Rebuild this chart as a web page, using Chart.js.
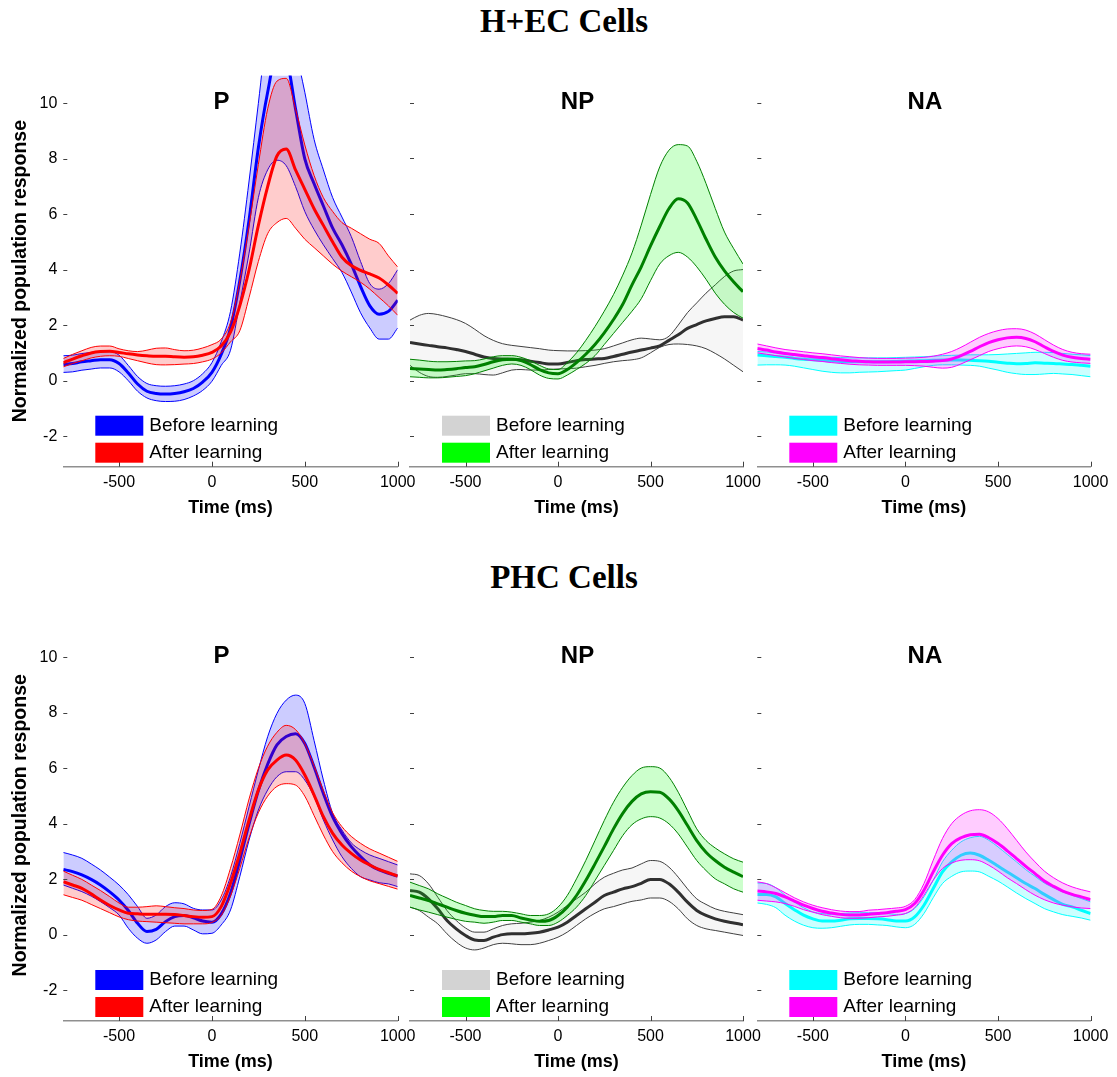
<!DOCTYPE html>
<html>
<head>
<meta charset="utf-8">
<title>Normalized population response before and after learning</title>
<script src="https://cdn.jsdelivr.net/npm/chart.js@4.4.0/dist/chart.umd.min.js"></script>
<style>
  body { margin: 0; background: #fff; width: 1117px; height: 1077px; position: relative; overflow: hidden; }
  .row-title { position: absolute; left: 0; width: 1128px; text-align: center; line-height: 38px;
               font: bold 33px "Liberation Serif", "Times New Roman", serif; color: #000; }
  canvas { position: absolute; }
</style>
</head>
<body>
<script>
const timeMs = [-800, -750, -700, -650, -600, -550, -500, -450, -400, -350, -300, -250, -200, -150, -100, -50,
    0, 50, 100, 150, 200, 250, 300, 350, 400, 450, 500, 550, 600, 650, 700, 750, 800, 850, 900, 950, 1000];
const xTickValues = [-500, 0, 500, 1000];
const yTickValues = [-2, 0, 2, 4, 6, 8, 10];
const rowTitles = ['H+EC Cells', 'PHC Cells'];
const panelTitles = ['P', 'NP', 'NA'];
const legendLabels = ['Before learning', 'After learning'];

// H+EC, P
const hecPBeforeMean = [0.58, 0.62, 0.68, 0.72, 0.76, 0.76, 0.62, 0.28, -0.12, -0.38, -0.46, -0.48, -0.46, -0.40, -0.28, -0.05, 0.30, 0.95, 1.9, 3.6, 5.8, 8.4, 10.4, 11.8, 11.6, 9.8, 8.0, 7.1, 6.3, 5.5, 4.9, 4.2, 3.4, 2.7, 2.4, 2.5, 2.9];
const hecPBeforeUpper = [0.9, 0.92, 0.98, 1.02, 1.05, 1.05, 0.92, 0.55, 0.15, -0.1, -0.18, -0.2, -0.18, -0.12, 0.0, 0.25, 0.65, 1.4, 2.5, 4.6, 7.2, 10.0, 12.8, 14.0, 14.0, 12.0, 10.4, 8.7, 7.6, 6.6, 5.9, 5.2, 4.3, 3.5, 3.3, 3.5, 4.0];
const hecPBeforeLower = [0.3, 0.32, 0.38, 0.42, 0.46, 0.46, 0.32, 0.0, -0.38, -0.62, -0.72, -0.75, -0.74, -0.68, -0.55, -0.35, -0.02, 0.55, 1.1, 2.8, 4.6, 6.6, 7.6, 7.95, 7.75, 7.0, 6.1, 5.45, 4.9, 4.4, 3.9, 3.2, 2.45, 1.9, 1.5, 1.5, 1.9];
const hecPAfterMean = [0.65, 0.78, 0.9, 1.0, 1.05, 1.06, 1.02, 0.97, 0.93, 0.9, 0.88, 0.88, 0.86, 0.85, 0.86, 0.92, 1.02, 1.25, 1.75, 2.7, 4.0, 5.6, 7.0, 8.1, 8.35, 7.6, 6.9, 6.2, 5.6, 5.0, 4.45, 4.15, 3.98, 3.85, 3.7, 3.45, 3.15];
const hecPAfterUpper = [0.8, 0.95, 1.08, 1.2, 1.25, 1.25, 1.15, 1.08, 1.05, 1.1, 1.17, 1.18, 1.12, 1.08, 1.1, 1.18, 1.3, 1.5, 2.1, 3.6, 5.6, 7.8, 9.8, 10.8, 10.9, 9.8, 8.5, 7.4, 6.6, 6.1, 5.7, 5.5, 5.3, 5.1, 4.95, 4.5, 4.1];
const hecPAfterLower = [0.5, 0.62, 0.72, 0.82, 0.88, 0.9, 0.88, 0.8, 0.72, 0.64, 0.58, 0.57, 0.58, 0.6, 0.62, 0.68, 0.78, 1.0, 1.4, 1.8, 3.0, 4.3, 5.3, 5.7, 5.85, 5.5, 5.1, 4.8, 4.5, 4.2, 3.95, 3.75, 3.55, 3.3, 3.0, 2.7, 2.36];

// H+EC, NP
const hecNPBeforeMean = [1.37, 1.32, 1.27, 1.22, 1.18, 1.12, 1.05, 0.95, 0.85, 0.8, 0.78, 0.77, 0.75, 0.7, 0.65, 0.6, 0.6, 0.65, 0.72, 0.76, 0.78, 0.8, 0.87, 0.95, 1.03, 1.1, 1.17, 1.25, 1.45, 1.65, 1.88, 2.02, 2.15, 2.24, 2.3, 2.3, 2.18];
const hecNPBeforeUpper = [2.18, 2.35, 2.42, 2.38, 2.3, 2.2, 2.06, 1.85, 1.62, 1.45, 1.33, 1.27, 1.23, 1.19, 1.15, 1.1, 1.08, 1.07, 1.07, 1.08, 1.1, 1.15, 1.25, 1.36, 1.47, 1.53, 1.5, 1.47, 1.6, 2.0, 2.45, 2.8, 3.15, 3.45, 3.75, 3.95, 4.0];
const hecNPBeforeLower = [0.55, 0.3, 0.15, 0.12, 0.15, 0.2, 0.25, 0.25, 0.22, 0.2, 0.28, 0.38, 0.4, 0.38, 0.38, 0.4, 0.42, 0.43, 0.45, 0.5, 0.55, 0.62, 0.68, 0.72, 0.75, 0.82, 1.0, 1.2, 1.3, 1.32, 1.3, 1.25, 1.15, 0.98, 0.78, 0.55, 0.32];
const hecNPAfterMean = [0.44, 0.42, 0.4, 0.38, 0.4, 0.43, 0.47, 0.5, 0.58, 0.68, 0.75, 0.77, 0.72, 0.58, 0.4, 0.28, 0.25, 0.4, 0.65, 0.95, 1.3, 1.72, 2.2, 2.75, 3.45, 4.1, 4.85, 5.55, 6.2, 6.55, 6.4, 5.8, 5.1, 4.45, 3.95, 3.55, 3.2];
const hecNPAfterUpper = [0.77, 0.74, 0.7, 0.68, 0.68, 0.69, 0.71, 0.72, 0.78, 0.86, 0.9, 0.9, 0.84, 0.72, 0.55, 0.42, 0.4, 0.65, 1.0, 1.45, 1.95, 2.5, 3.1, 3.8, 4.6, 5.6, 6.7, 7.7, 8.3, 8.5, 8.45, 7.9, 7.1, 6.2, 5.35, 4.75, 4.2];
const hecNPAfterLower = [0.14, 0.12, 0.1, 0.1, 0.12, 0.15, 0.18, 0.25, 0.35, 0.45, 0.55, 0.6, 0.55, 0.4, 0.2, 0.08, 0.06, 0.2, 0.4, 0.62, 0.9, 1.3, 1.7, 2.1, 2.5, 2.95, 3.6, 4.2, 4.5, 4.62, 4.45, 4.1, 3.65, 3.15, 2.75, 2.45, 2.25];

// H+EC, NA
const hecNABeforeMean = [0.92, 0.9, 0.87, 0.84, 0.8, 0.77, 0.75, 0.73, 0.71, 0.69, 0.68, 0.68, 0.68, 0.68, 0.68, 0.69, 0.7, 0.71, 0.72, 0.73, 0.74, 0.74, 0.74, 0.73, 0.72, 0.7, 0.66, 0.63, 0.61, 0.62, 0.64, 0.63, 0.62, 0.6, 0.58, 0.55, 0.52];
const hecNABeforeUpper = [1.05, 1.03, 1.0, 0.97, 0.93, 0.9, 0.88, 0.86, 0.84, 0.83, 0.82, 0.82, 0.82, 0.82, 0.82, 0.83, 0.84, 0.85, 0.86, 0.88, 0.9, 0.91, 0.92, 0.93, 0.93, 0.93, 0.94, 0.96, 0.98, 1.0, 1.02, 1.02, 1.01, 0.98, 0.95, 0.93, 0.9];
const hecNABeforeLower = [0.56, 0.57, 0.57, 0.56, 0.52, 0.46, 0.4, 0.34, 0.3, 0.28, 0.28, 0.3, 0.31, 0.32, 0.34, 0.36, 0.38, 0.44, 0.5, 0.55, 0.57, 0.57, 0.56, 0.55, 0.52, 0.45, 0.38, 0.3, 0.25, 0.22, 0.22, 0.24, 0.26, 0.24, 0.22, 0.18, 0.14];
const hecNAAfterMean = [1.16, 1.1, 1.03, 0.98, 0.94, 0.9, 0.86, 0.83, 0.79, 0.75, 0.72, 0.7, 0.68, 0.67, 0.67, 0.67, 0.68, 0.68, 0.69, 0.7, 0.72, 0.78, 0.9, 1.05, 1.22, 1.37, 1.47, 1.54, 1.56, 1.52, 1.4, 1.22, 1.05, 0.92, 0.84, 0.8, 0.77];
const hecNAAfterUpper = [1.32, 1.25, 1.18, 1.12, 1.08, 1.04, 1.0, 0.97, 0.93, 0.89, 0.86, 0.83, 0.81, 0.8, 0.8, 0.8, 0.81, 0.82, 0.84, 0.88, 0.95, 1.05, 1.2, 1.38, 1.56, 1.7, 1.8, 1.86, 1.87, 1.82, 1.68, 1.48, 1.28, 1.12, 1.02, 0.97, 0.95];
const hecNAAfterLower = [1.0, 0.95, 0.9, 0.85, 0.8, 0.76, 0.72, 0.69, 0.65, 0.62, 0.59, 0.57, 0.56, 0.55, 0.55, 0.55, 0.55, 0.54, 0.52, 0.48, 0.45, 0.48, 0.6, 0.75, 0.9, 1.05, 1.15, 1.22, 1.25, 1.22, 1.12, 0.98, 0.84, 0.73, 0.67, 0.64, 0.62];

// PHC, P
const phcPBeforeMean = [2.36, 2.28, 2.16, 2.0, 1.8, 1.55, 1.26, 0.88, 0.42, 0.12, 0.2, 0.48, 0.66, 0.7, 0.62, 0.5, 0.46, 0.75, 1.5, 2.7, 4.0, 5.2, 6.15, 6.85, 7.15, 7.25, 6.9, 6.05, 5.1, 4.25, 3.65, 3.18, 2.82, 2.52, 2.34, 2.22, 2.12];
const phcPBeforeUpper = [2.97, 2.88, 2.76, 2.56, 2.34, 2.08, 1.8, 1.45, 1.02, 0.6, 0.72, 1.02, 1.16, 1.12, 0.96, 0.9, 0.9, 1.26, 2.1, 3.3, 4.62, 5.94, 7.14, 7.98, 8.46, 8.64, 8.34, 7.0, 5.58, 4.38, 3.78, 3.32, 3.06, 2.88, 2.76, 2.64, 2.52];
const phcPBeforeLower = [1.8, 1.68, 1.56, 1.4, 1.2, 0.98, 0.72, 0.24, -0.12, -0.3, -0.18, 0.12, 0.32, 0.32, 0.18, 0.04, 0.06, 0.36, 0.9, 2.1, 3.42, 4.5, 5.22, 5.7, 5.88, 5.88, 5.58, 4.98, 4.14, 3.42, 2.82, 2.4, 2.1, 1.98, 1.88, 1.84, 1.74];
const phcPAfterMean = [1.92, 1.8, 1.68, 1.48, 1.26, 1.06, 0.9, 0.78, 0.76, 0.75, 0.75, 0.75, 0.74, 0.7, 0.66, 0.64, 0.66, 1.02, 1.86, 2.94, 4.14, 5.22, 5.94, 6.3, 6.48, 6.3, 5.76, 5.04, 4.26, 3.66, 3.24, 2.94, 2.7, 2.52, 2.36, 2.24, 2.12];
const phcPAfterUpper = [2.3, 2.15, 2.0, 1.8, 1.6, 1.38, 1.15, 1.0, 1.0, 1.02, 1.05, 1.02, 0.98, 0.95, 0.9, 0.88, 0.92, 1.4, 2.4, 3.6, 4.9, 6.0, 6.8, 7.3, 7.55, 7.4, 6.9, 6.1, 5.2, 4.4, 3.9, 3.55, 3.3, 3.1, 2.95, 2.8, 2.65];
const phcPAfterLower = [1.45, 1.35, 1.25, 1.1, 0.95, 0.8, 0.65, 0.55, 0.5, 0.48, 0.46, 0.44, 0.42, 0.4, 0.4, 0.4, 0.45, 0.7, 1.4, 2.4, 3.5, 4.4, 5.0, 5.35, 5.45, 5.4, 5.0, 4.3, 3.6, 3.0, 2.6, 2.3, 2.1, 1.95, 1.85, 1.75, 1.65];

// PHC, NP
const phcNPBeforeMean = [1.6, 1.54, 1.3, 0.94, 0.52, 0.22, -0.02, -0.18, -0.2, -0.08, 0.01, 0.04, 0.04, 0.06, 0.1, 0.18, 0.28, 0.46, 0.7, 0.94, 1.18, 1.42, 1.54, 1.66, 1.74, 1.86, 2.0, 2.0, 1.84, 1.54, 1.18, 0.88, 0.7, 0.58, 0.49, 0.43, 0.37];
const phcNPBeforeUpper = [2.2, 2.14, 1.84, 1.36, 0.88, 0.52, 0.25, 0.1, 0.1, 0.22, 0.34, 0.4, 0.42, 0.46, 0.52, 0.64, 0.82, 1.06, 1.3, 1.54, 1.84, 2.08, 2.22, 2.34, 2.41, 2.56, 2.68, 2.65, 2.44, 2.08, 1.66, 1.3, 1.1, 0.94, 0.85, 0.79, 0.73];
const phcNPBeforeLower = [1.0, 0.88, 0.64, 0.4, 0.04, -0.26, -0.47, -0.54, -0.47, -0.35, -0.3, -0.32, -0.35, -0.35, -0.3, -0.2, -0.08, 0.1, 0.34, 0.58, 0.78, 0.94, 1.02, 1.12, 1.21, 1.26, 1.33, 1.33, 1.21, 0.94, 0.58, 0.34, 0.22, 0.16, 0.1, 0.04, -0.02];
const phcNPAfterMean = [1.42, 1.33, 1.24, 1.12, 1.0, 0.88, 0.78, 0.71, 0.66, 0.66, 0.7, 0.7, 0.61, 0.54, 0.49, 0.52, 0.7, 1.0, 1.42, 1.96, 2.56, 3.18, 3.82, 4.38, 4.81, 5.08, 5.16, 5.14, 4.9, 4.48, 3.94, 3.4, 2.98, 2.68, 2.44, 2.26, 2.1];
const phcNPAfterUpper = [1.9, 1.78, 1.66, 1.48, 1.33, 1.18, 1.06, 0.94, 0.88, 0.85, 0.85, 0.82, 0.76, 0.7, 0.7, 0.76, 1.0, 1.42, 2.02, 2.68, 3.4, 4.12, 4.78, 5.32, 5.74, 6.01, 6.06, 6.01, 5.68, 5.14, 4.48, 3.82, 3.4, 3.13, 2.92, 2.74, 2.62];
const phcNPAfterLower = [1.0, 0.9, 0.82, 0.73, 0.64, 0.56, 0.49, 0.46, 0.42, 0.46, 0.52, 0.52, 0.46, 0.4, 0.34, 0.34, 0.46, 0.7, 1.0, 1.42, 1.96, 2.5, 3.04, 3.58, 3.97, 4.18, 4.26, 4.21, 4.0, 3.64, 3.16, 2.68, 2.32, 2.02, 1.84, 1.66, 1.54];

// PHC, NA
const phcNABeforeMean = [1.46, 1.46, 1.37, 1.13, 0.91, 0.71, 0.58, 0.5, 0.5, 0.53, 0.58, 0.59, 0.59, 0.58, 0.55, 0.5, 0.5, 0.65, 1.07, 1.67, 2.27, 2.63, 2.87, 2.95, 2.87, 2.69, 2.48, 2.27, 2.06, 1.85, 1.67, 1.46, 1.27, 1.1, 1.01, 0.89, 0.77];
const phcNABeforeUpper = [1.87, 1.85, 1.7, 1.43, 1.19, 0.98, 0.83, 0.77, 0.74, 0.77, 0.79, 0.8, 0.8, 0.79, 0.77, 0.74, 0.77, 0.95, 1.37, 1.97, 2.63, 3.05, 3.35, 3.5, 3.55, 3.41, 3.17, 2.9, 2.63, 2.35, 2.11, 1.87, 1.7, 1.55, 1.43, 1.31, 1.19];
const phcNABeforeLower = [1.15, 1.1, 0.98, 0.71, 0.5, 0.35, 0.26, 0.24, 0.26, 0.31, 0.36, 0.38, 0.38, 0.36, 0.34, 0.29, 0.26, 0.38, 0.77, 1.34, 1.85, 2.11, 2.27, 2.3, 2.27, 2.11, 1.94, 1.73, 1.51, 1.31, 1.13, 0.95, 0.83, 0.73, 0.67, 0.61, 0.53];
const phcNAAfterMean = [1.58, 1.55, 1.49, 1.37, 1.22, 1.07, 0.95, 0.85, 0.79, 0.74, 0.72, 0.72, 0.74, 0.77, 0.8, 0.85, 0.91, 1.13, 1.61, 2.27, 2.87, 3.29, 3.5, 3.61, 3.63, 3.5, 3.29, 3.03, 2.75, 2.47, 2.21, 1.94, 1.75, 1.58, 1.46, 1.37, 1.27];
const phcNAAfterUpper = [1.91, 1.85, 1.7, 1.52, 1.34, 1.19, 1.07, 0.98, 0.91, 0.86, 0.84, 0.84, 0.89, 0.91, 0.94, 0.97, 1.03, 1.27, 1.85, 2.69, 3.47, 4.01, 4.31, 4.47, 4.51, 4.43, 4.19, 3.83, 3.41, 2.99, 2.63, 2.3, 2.06, 1.87, 1.73, 1.63, 1.55];
const phcNAAfterLower = [1.25, 1.22, 1.19, 1.13, 1.03, 0.91, 0.82, 0.73, 0.67, 0.62, 0.6, 0.6, 0.62, 0.65, 0.67, 0.71, 0.77, 0.98, 1.43, 1.97, 2.39, 2.59, 2.69, 2.71, 2.67, 2.51, 2.3, 2.06, 1.85, 1.63, 1.43, 1.27, 1.15, 1.07, 1.01, 0.97, 0.95];

const sansFont = '"Liberation Sans", Arial, Helvetica, sans-serif';
Chart.defaults.font.family = sansFont;
Chart.defaults.color = '#000';

const palette = {
    P: {
        before: { line: '#0000ff', edge: '#0000ff', fill: 'rgba(0,0,255,0.2)', key: '#0000ff' },
        after: { line: '#ff0000', edge: '#ff0000', fill: 'rgba(255,0,0,0.2)', key: '#ff0000' }
    },
    NP: {
        before: { line: '#303030', edge: '#404040', fill: 'rgba(211,211,211,0.2)', key: '#d3d3d3' },
        after: { line: '#008000', edge: '#008000', fill: 'rgba(0,255,0,0.2)', key: '#00ff00' }
    },
    NA: {
        before: { line: '#00ffff', edge: '#00ffff', fill: 'rgba(0,255,255,0.2)', key: '#00ffff' },
        after: { line: '#ff00ff', edge: '#ff00ff', fill: 'rgba(255,0,255,0.2)', key: '#ff00ff' }
    }
};

const panelData = [
    [
        { before: [hecPBeforeMean, hecPBeforeUpper, hecPBeforeLower], after: [hecPAfterMean, hecPAfterUpper, hecPAfterLower] },
        { before: [hecNPBeforeMean, hecNPBeforeUpper, hecNPBeforeLower], after: [hecNPAfterMean, hecNPAfterUpper, hecNPAfterLower] },
        { before: [hecNABeforeMean, hecNABeforeUpper, hecNABeforeLower], after: [hecNAAfterMean, hecNAAfterUpper, hecNAAfterLower] }
    ],
    [
        { before: [phcPBeforeMean, phcPBeforeUpper, phcPBeforeLower], after: [phcPAfterMean, phcPAfterUpper, phcPAfterLower] },
        { before: [phcNPBeforeMean, phcNPBeforeUpper, phcNPBeforeLower], after: [phcNPAfterMean, phcNPAfterUpper, phcNPAfterLower] },
        { before: [phcNABeforeMean, phcNABeforeUpper, phcNABeforeLower], after: [phcNAAfterMean, phcNAAfterUpper, phcNAAfterLower] }
    ]
];

// canvas boxes, tuned so the plot areas line up with the figure
const colBoxes = [
    { left: 0, width: 423, padLeft: 0, padRight: 25.3, titleShift: -9 },
    { left: 385, width: 383, padLeft: 25, padRight: 25, titleShift: 1 },
    { left: 732, width: 384, padLeft: 25.3, padRight: 25.4, titleShift: 1 }
];
const rowBoxes = [
    { top: 60, height: 460, padTop: 15.2, padBottom: 0.3, titleTop: 3 },
    { top: 614, height: 460, padTop: 15.5, padBottom: 0, titleTop: 559 }
];

const toPoints = ys => timeMs.map((t, i) => ({ x: t, y: ys[i] }));

function bandDatasets(series, style, baseOrder) {
    const [mean, upper, lower] = series;
    const common = { pointRadius: 0, cubicInterpolationMode: 'monotone', clip: 0 };
    return [
        { ...common, data: toPoints(upper), borderColor: style.edge, borderWidth: 1,
          backgroundColor: style.fill, fill: '+1', order: baseOrder + 2 },
        { ...common, data: toPoints(lower), borderColor: style.edge, borderWidth: 1,
          fill: false, order: baseOrder + 1 },
        { ...common, data: toPoints(mean), borderColor: style.line, borderWidth: 3,
          fill: false, order: baseOrder }
    ];
}

function decorPlugin(title, keys, titleShift) {
    return {
        id: 'panelDecor',
        afterDraw(chart) {
            const { ctx, chartArea: a, scales: { x, y } } = chart;
            ctx.save();
            ctx.strokeStyle = '#404040';
            ctx.lineWidth = 1;
            ctx.beginPath();
            yTickValues.forEach(v => {
                const py = Math.round(y.getPixelForValue(v)) + 0.5;
                ctx.moveTo(a.left, py);
                ctx.lineTo(a.left + 4, py);
            });
            xTickValues.forEach(v => {
                const px = Math.round(x.getPixelForValue(v)) + 0.5;
                ctx.moveTo(px, a.bottom);
                ctx.lineTo(px, a.bottom - 5);
            });
            ctx.stroke();

            ctx.fillStyle = '#000';
            ctx.font = 'bold 24px ' + sansFont;
            ctx.textAlign = 'center';
            ctx.textBaseline = 'middle';
            ctx.fillText(title, (a.left + a.right) / 2 + titleShift, a.top + 27);

            ctx.font = '19px ' + sansFont;
            ctx.textAlign = 'left';
            keys.forEach((color, i) => {
                const top = a.bottom - 51 + i * 27;
                ctx.fillStyle = color;
                ctx.fillRect(a.left + 32, top, 48, 20);
                ctx.fillStyle = '#000';
                ctx.fillText(legendLabels[i], a.left + 86, top + 10);
            });
            ctx.restore();
        }
    };
}

rowTitles.forEach((text, r) => {
    const div = document.createElement('div');
    div.className = 'row-title';
    div.style.top = rowBoxes[r].titleTop + 'px';
    div.textContent = text;
    document.body.appendChild(div);
});

rowBoxes.forEach((rowBox, r) => {
    colBoxes.forEach((colBox, c) => {
        const title = panelTitles[c];
        const style = palette[title];
        const data = panelData[r][c];

        const canvas = document.createElement('canvas');
        canvas.width = colBox.width;
        canvas.height = rowBox.height;
        canvas.style.left = colBox.left + 'px';
        canvas.style.top = rowBox.top + 'px';
        canvas.style.width = colBox.width + 'px';
        canvas.style.height = rowBox.height + 'px';
        document.body.appendChild(canvas);

        const yScale = {
            min: -3.1,
            max: 11,
            display: c === 0,
            afterBuildTicks: s => { s.ticks = yTickValues.map(v => ({ value: v })); },
            grid: { display: false, drawTicks: false },
            border: { display: false },
            ticks: { font: { size: 16 }, color: '#000', padding: 6, callback: v => String(v) },
            title: {
                display: true,
                text: 'Normalized population response',
                font: { size: 19.5, weight: 'bold' },
                color: '#000',
                padding: { top: 8.5, bottom: 0 }
            }
        };
        if (c === 0) yScale.afterFit = s => { s.width = 63.3; };

        new Chart(canvas, {
            type: 'line',
            data: {
                datasets: [
                    ...bandDatasets(data.before, style.before, 4),
                    ...bandDatasets(data.after, style.after, 1)
                ]
            },
            options: {
                responsive: false,
                animation: false,
                devicePixelRatio: 1,
                events: [],
                layout: { padding: { left: colBox.padLeft, right: colBox.padRight, top: rowBox.padTop, bottom: rowBox.padBottom } },
                plugins: {
                    legend: { display: false },
                    tooltip: { enabled: false },
                    filler: { drawTime: 'beforeDatasetDraw' }
                },
                scales: {
                    x: {
                        type: 'linear',
                        min: -800,
                        max: 1000,
                        afterBuildTicks: s => { s.ticks = xTickValues.map(v => ({ value: v })); },
                        afterFit: s => { s.height = 53; },
                        grid: { display: false, drawTicks: false },
                        border: { display: true, color: '#8f8f8f', width: 1.5 },
                        ticks: { font: { size: 16 }, color: '#000', padding: 6, maxRotation: 0, autoSkip: false, callback: v => String(v) },
                        title: {
                            display: true,
                            text: 'Time (ms)',
                            font: { size: 18, weight: 'bold' },
                            color: '#000',
                            padding: { top: 0, bottom: 1 }
                        }
                    },
                    y: yScale
                }
            },
            plugins: [decorPlugin(title, [style.before.key, style.after.key], colBox.titleShift)]
        });
    });
});
</script>
</body>
</html>
